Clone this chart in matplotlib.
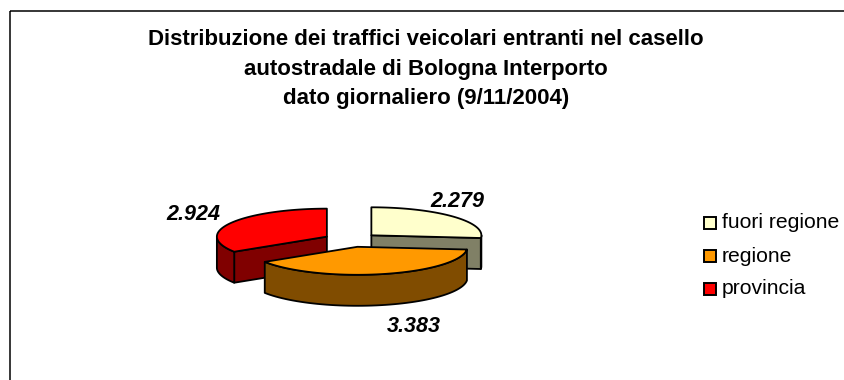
import numpy as np
import matplotlib
matplotlib.use('Agg')
import matplotlib.pyplot as plt
from matplotlib.patches import Polygon, Rectangle

# Data
labels = ['fuori regione', 'regione', 'provincia']
values = [2279, 3383, 2924]
top_colors = ['#FFFFCC', '#FF9900', '#FF0000']
side_colors = ['#808066', '#804C00', '#800000']
title = ('Distribuzione dei traffici veicolari entranti nel casello\n'
         'autostradale di Bologna Interporto\n'
         'dato giornaliero (9/11/2004)')

# Pie geometry (pixels, y grows downwards)
CX, CY = 351, 240
RX, RY = 110, 28
DEPTH = 31
EXPLODE = 0.25
label_offsets = [(5, -15), (31, 21), (-37, -9)]

plt.rcParams['font.family'] = ['Liberation Sans', 'DejaVu Sans']


def arc(cx, cy, a_from, a_to, z=0, n=60):
    a = np.radians(np.linspace(a_from, a_to, n))
    return np.column_stack([cx + RX * np.cos(a), cy - RY * np.sin(a) + z])


def face(ax, pts, color):
    ax.add_patch(Polygon(pts, closed=True, facecolor=color, edgecolor='black',
                         linewidth=1.3, joinstyle='round'))


def drawSlice(ax, a0, a1, top, side):
    mid = np.radians((a0 + a1) / 2)
    cx = CX + EXPLODE * RX * np.cos(mid)
    cy = CY - EXPLODE * RY * np.sin(mid)
    apex = np.array([[cx, cy]])

    # radial faces turned towards the viewer
    for a, visible in ((a0, np.cos(np.radians(a0)) < -1e-6),
                       (a1, np.cos(np.radians(a1)) > 1e-6)):
        if visible:
            edge = arc(cx, cy, a, a, n=1)
            pts = np.vstack([apex, edge, edge + [0, DEPTH], apex + [0, DEPTH]])
            face(ax, pts, side)

    # curved outer wall, front half only
    b0, b1 = min(a0, 0), max(a1, -180)
    if b0 > b1:
        upper = arc(cx, cy, b0, b1)
        lower = arc(cx, cy, b1, b0, z=DEPTH)
        face(ax, np.vstack([upper, lower]), side)

    face(ax, np.vstack([apex, arc(cx, cy, a0, a1)]), top)
    return cx, cy, mid


fig = plt.figure(figsize=(8.45, 3.8), dpi=100)
ax = fig.add_axes([0, 0, 1, 1])
ax.set_xlim(0, 845)
ax.set_ylim(380, 0)
ax.axis('off')

# chart area border (runs off the right and bottom edges)
ax.add_patch(Rectangle((10, 11), 900, 400, fill=False, edgecolor='black', linewidth=1.1))

ax.text(426, 69, title, ha='center', va='center', fontsize=16,
        fontweight='bold', linespacing=1.52)

fractions = np.array(values) / sum(values)
bounds = 90 - 360 * np.concatenate([[0], np.cumsum(fractions)])
slices = [(i, bounds[i], bounds[i + 1]) for i in range(len(values))]

# back slices first, the front one last
order = [2, 0, 1]
centers = {}
for i in order:
    _, a0, a1 = slices[i]
    centers[i] = drawSlice(ax, a0, a1, top_colors[i], side_colors[i])

for i, v in enumerate(values):
    cx, cy, mid = centers[i]
    ox = cx + RX * np.cos(mid)
    oy = cy - RY * np.sin(mid) + (DEPTH if np.sin(mid) < 0 else 0)
    dx, dy = label_offsets[i]
    ax.text(ox + dx, oy + dy, f'{v:,}'.replace(',', '.'), ha='center', va='center',
            fontsize=15.5, fontweight='bold', fontstyle='italic')

# legend
for i, lab in enumerate(labels):
    y = 223 + 33 * i
    ax.add_patch(Rectangle((704, y - 6), 12, 12, facecolor=top_colors[i],
                           edgecolor='black', linewidth=1.4))
    ax.text(722, y, lab, ha='left', va='center', fontsize=15.2)

fig.savefig('out.png', dpi=100)
